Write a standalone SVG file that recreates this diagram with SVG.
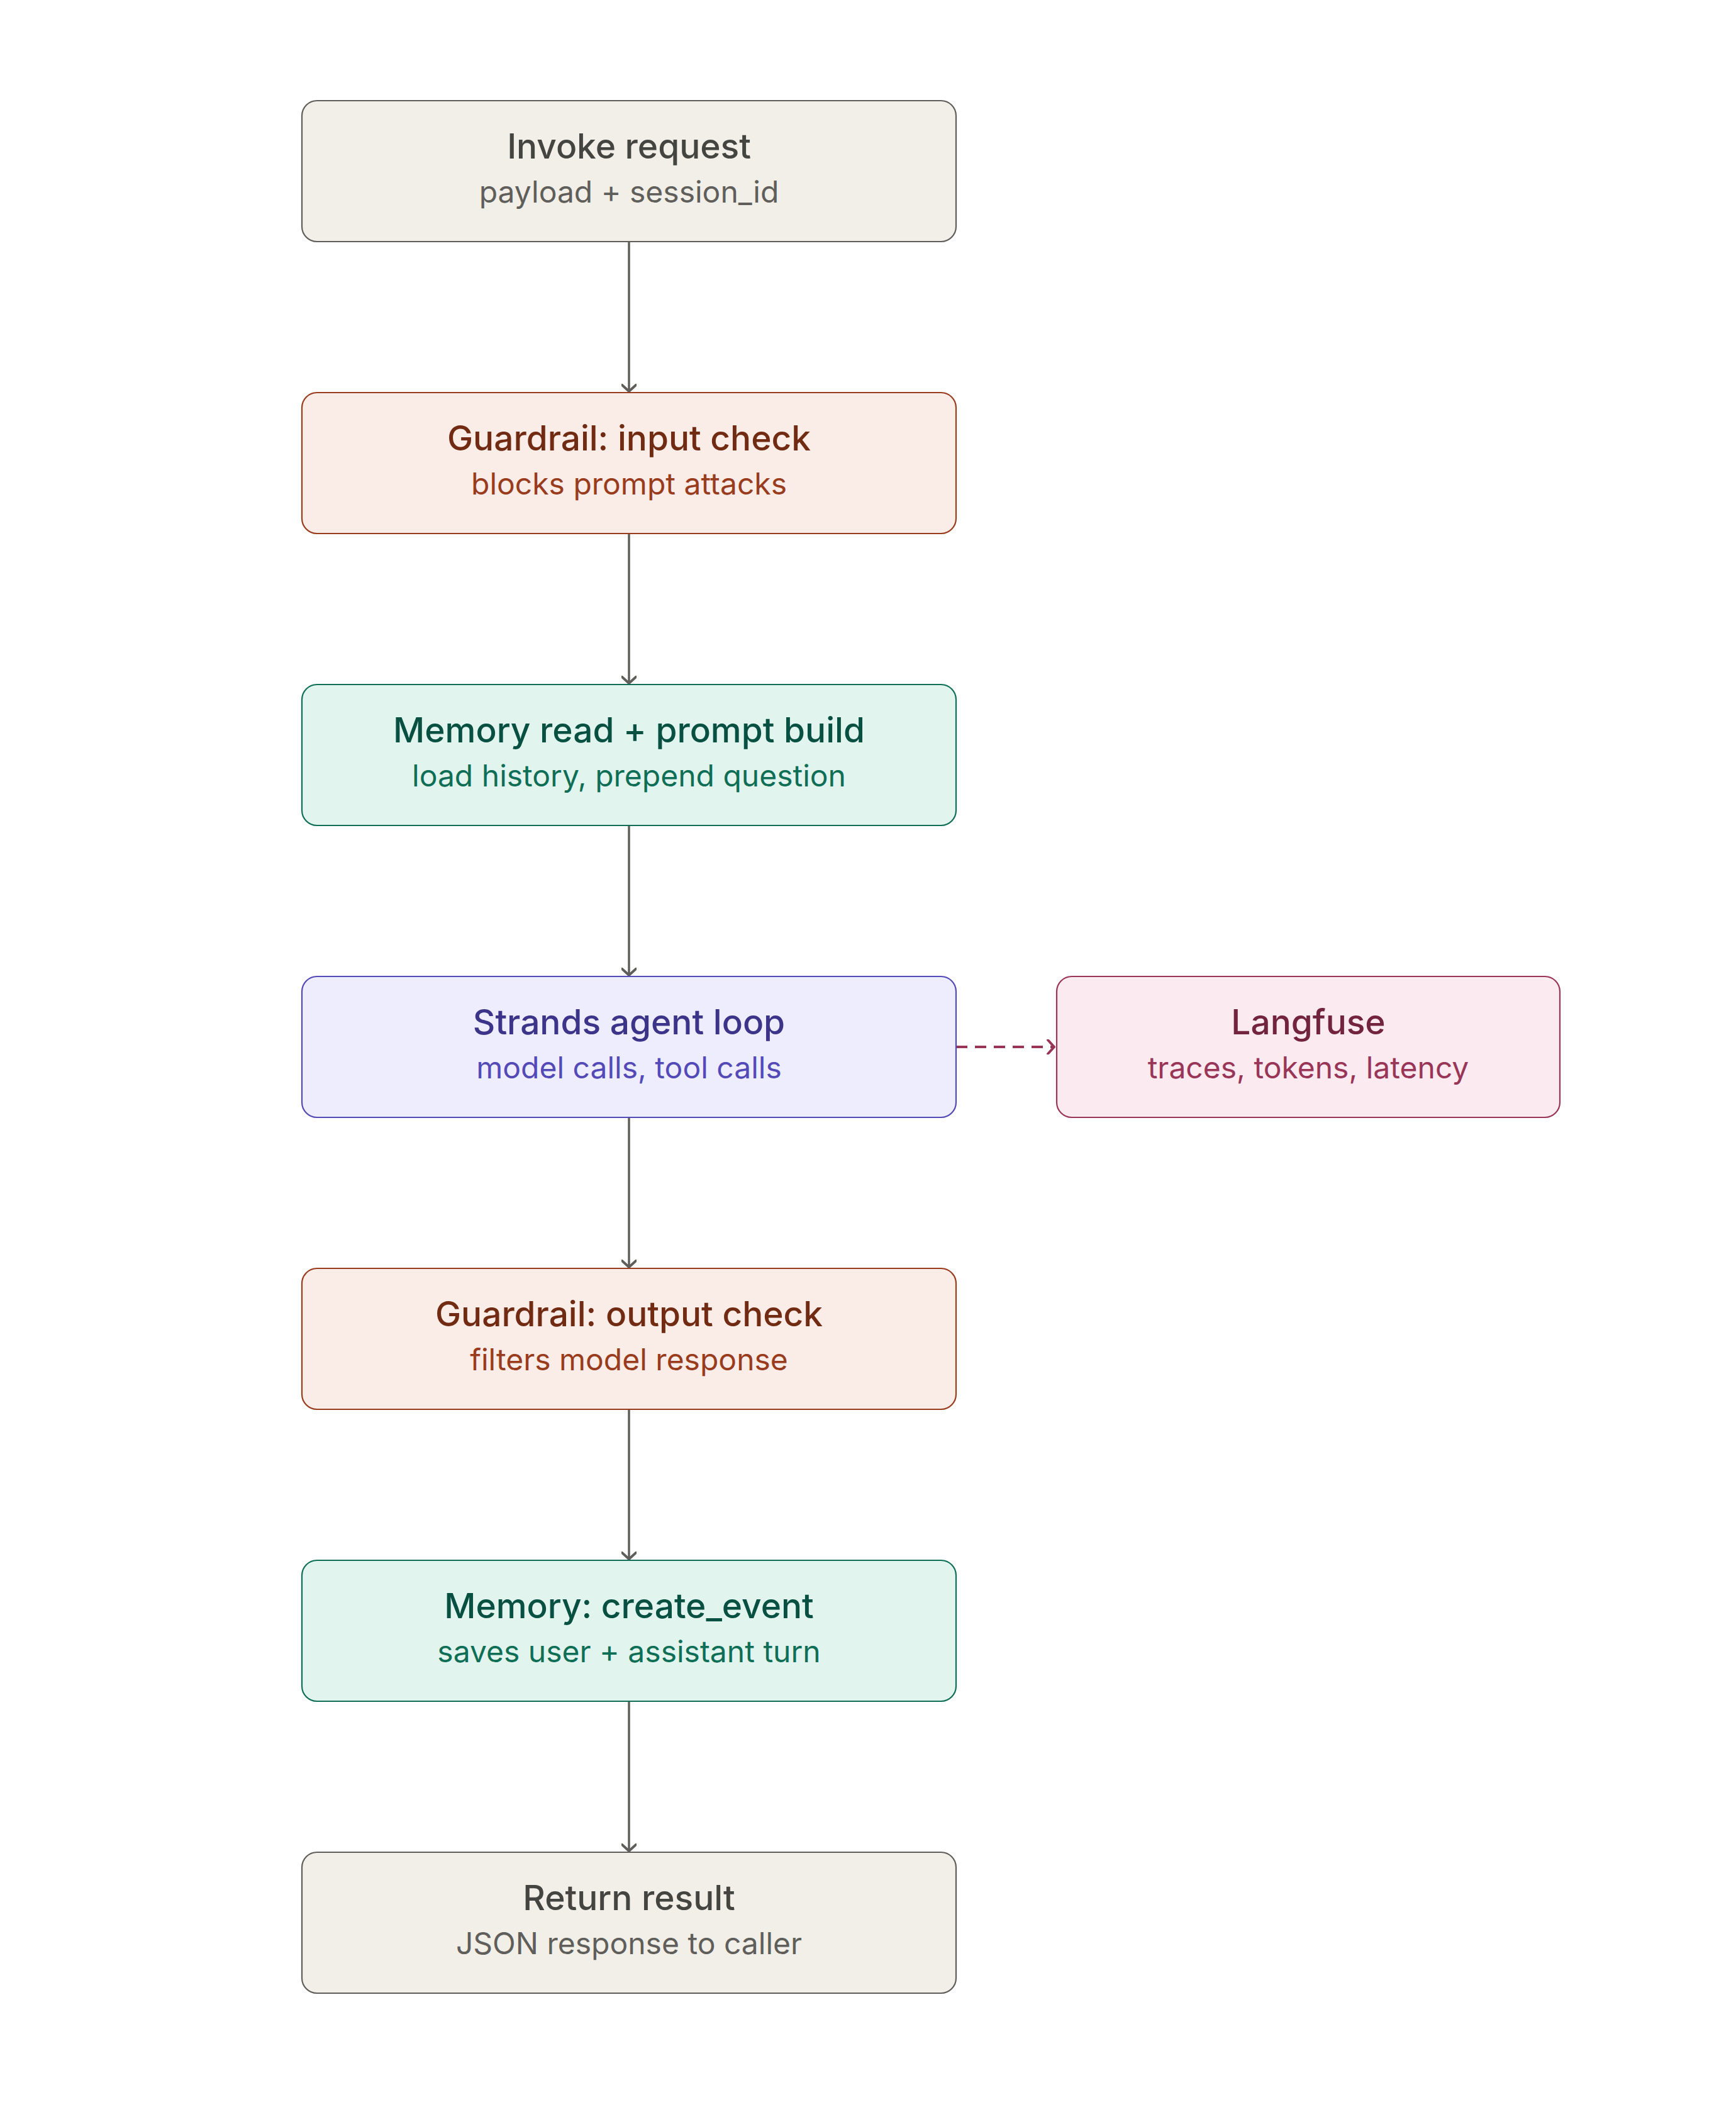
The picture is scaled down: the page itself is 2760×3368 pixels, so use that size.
<svg xmlns="http://www.w3.org/2000/svg" width="2760" height="3368" viewBox="0 0 2760 3368">
<defs>
<marker id="arrg" viewBox="-12 -12 24 24" refX="0" refY="0" markerWidth="24" markerHeight="24" markerUnits="userSpaceOnUse" orient="auto">
<path d="M-10 -11 L0 0 L-10 11" fill="none" stroke="#5f5e5a" stroke-width="4" stroke-linecap="round" stroke-linejoin="round"/>
</marker>
<marker id="arrp" viewBox="-12 -12 24 24" refX="0" refY="0" markerWidth="24" markerHeight="24" markerUnits="userSpaceOnUse" orient="auto">
<path d="M-10 -11 L0 0 L-10 11" fill="none" stroke="#993556" stroke-width="4" stroke-linecap="round" stroke-linejoin="round"/>
</marker>
</defs>
<style>
.box{stroke-width:2.2}
.t{font-family:Inter,"Noto Sans","Liberation Sans",sans-serif;font-size:55px;font-weight:500;text-anchor:middle}
.s{font-family:Inter,"Noto Sans","Liberation Sans",sans-serif;font-size:48px;font-weight:400;text-anchor:middle}
.gray .box{fill:#f1efe8;stroke:#5f5e5a}.gray .t{fill:#444441}.gray .s{fill:#5f5e5a}
.coral .box{fill:#faece7;stroke:#993c1d}.coral .t{fill:#712b13}.coral .s{fill:#993c1d}
.green .box{fill:#e1f5ee;stroke:#0f6e56}.green .t{fill:#085041}.green .s{fill:#0f6e56}
.purple .box{fill:#eeedfe;stroke:#534ab7}.purple .t{fill:#3c3489}.purple .s{fill:#534ab7}
.pink .box{fill:#fbeaf0;stroke:#993556}.pink .t{fill:#72243e}.pink .s{fill:#993556}
.c{fill:none;stroke:#5f5e5a;stroke-width:3.5;marker-end:url(#arrg)}
.d{fill:none;stroke:#993556;stroke-width:4;stroke-dasharray:18 12;marker-end:url(#arrp)}
</style>
<rect width="2760" height="3368" fill="#ffffff"/>
<g id="connectors">
<path class="c" d="M1000 384 L1000 622"/>
<path class="c" d="M1000 848 L1000 1086"/>
<path class="c" d="M1000 1312 L1000 1550"/>
<path class="c" d="M1000 1776 L1000 2014"/>
<path class="c" d="M1000 2240 L1000 2478"/>
<path class="c" d="M1000 2704 L1000 2942"/>
<path class="d" d="M1520 1664 L1676 1664"/>
</g>
<g id="invoke" class="gray">
<rect class="box" x="480" y="160" width="1040" height="224" rx="24"/>
<text class="t" x="1000" y="252">Invoke request</text>
<text class="s" x="1000" y="322">payload + session_id</text>
</g>
<g id="guard-in" class="coral">
<rect class="box" x="480" y="624" width="1040" height="224" rx="24"/>
<text class="t" x="1000" y="716">Guardrail: input check</text>
<text class="s" x="1000" y="786">blocks prompt attacks</text>
</g>
<g id="memory-read" class="green">
<rect class="box" x="480" y="1088" width="1040" height="224" rx="24"/>
<text class="t" x="1000" y="1180">Memory read + prompt build</text>
<text class="s" x="1000" y="1250">load history, prepend question</text>
</g>
<g id="strands" class="purple">
<rect class="box" x="480" y="1552" width="1040" height="224" rx="24"/>
<text class="t" x="1000" y="1644">Strands agent loop</text>
<text class="s" x="1000" y="1714">model calls, tool calls</text>
</g>
<g id="langfuse" class="pink">
<rect class="box" x="1680" y="1552" width="800" height="224" rx="24"/>
<text class="t" x="2080" y="1644">Langfuse</text>
<text class="s" x="2080" y="1714">traces, tokens, latency</text>
</g>
<g id="guard-out" class="coral">
<rect class="box" x="480" y="2016" width="1040" height="224" rx="24"/>
<text class="t" x="1000" y="2108">Guardrail: output check</text>
<text class="s" x="1000" y="2178">filters model response</text>
</g>
<g id="memory-write" class="green">
<rect class="box" x="480" y="2480" width="1040" height="224" rx="24"/>
<text class="t" x="1000" y="2572">Memory: create_event</text>
<text class="s" x="1000" y="2642">saves user + assistant turn</text>
</g>
<g id="return" class="gray">
<rect class="box" x="480" y="2944" width="1040" height="224" rx="24"/>
<text class="t" x="1000" y="3036">Return result</text>
<text class="s" x="1000" y="3106">JSON response to caller</text>
</g>
</svg>
